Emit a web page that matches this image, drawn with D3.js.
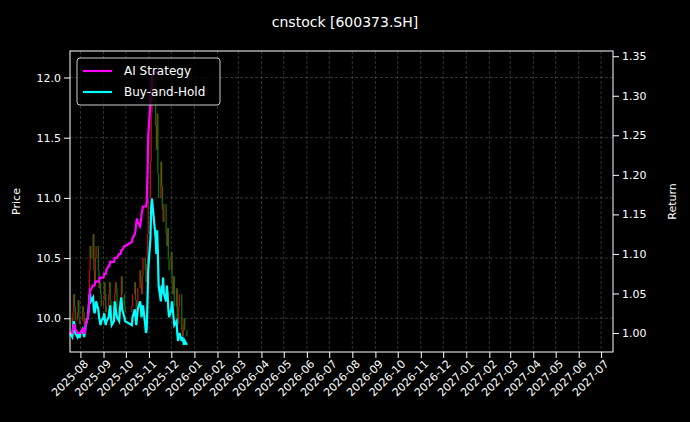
<!DOCTYPE html>
<html><head><meta charset="utf-8">
<script src="https://cdn.jsdelivr.net/npm/d3@7"></script>
<style>
body{margin:0;background:#000;}
text{font-family:"DejaVu Sans",sans-serif;fill:#fff;}
</style></head><body>
<div id="chart"></div>
<script>
// closing prices per trading day, 2025-07-18 .. 2025-12-22
var closes = [
 10.0,9.95,10.05,10.2,10.1,9.98,10.05,10.15,10.0,9.95,
 9.98,10.1,10.05,9.95,9.98,10.0,10.05,10.2,10.4,10.6,10.5,10.7,10.4,10.3,10.5,10.6,10.4,10.25,10.3,10.2,10.1,
 10.15,10.3,10.2,10.05,10.1,10.2,10.3,10.15,10.05,10.0,10.1,10.2,10.3,10.25,10.1,10.0,10.05,10.15,10.35,10.2,10.1,10.05,
 10.1,10.2,10.3,10.15,10.05,10.1,10.25,10.4,10.3,10.2,10.35,10.5,10.4,10.3,10.45,10.7,11.0,
 11.3,11.7,11.95,11.8,12.0,11.6,11.4,11.7,11.2,11.0,11.3,11.1,10.9,10.8,10.95,10.7,10.6,10.75,10.5,10.4,
 10.55,10.3,10.2,10.35,10.1,10.25,10.0,9.95,10.1,10.2,9.9,9.85,9.95,10.0,9.9,9.85
];
var buyHold = [
 1.00,0.995,1.005,1.015,1.01,1.0,0.995,1.0,0.995,0.995,
 1.0,1.005,1.0,0.995,1.0,1.01,1.02,1.03,1.045,1.05,1.04,1.045,1.03,1.025,1.03,1.04,1.03,1.02,1.015,1.01,1.015,
 1.02,1.025,1.015,1.01,1.015,1.02,1.03,1.035,1.02,1.01,1.015,1.04,1.035,1.025,1.02,1.015,1.03,1.04,1.045,1.03,1.02,1.015,
 1.01,1.02,1.03,1.02,1.01,1.02,1.03,1.04,1.035,1.02,1.03,1.035,1.01,1.0,1.005,1.04,1.08,
 1.12,1.16,1.17,1.16,1.15,1.12,1.1,1.13,1.1,1.06,1.04,1.06,1.05,1.07,1.05,1.04,1.06,1.05,1.03,1.02,
 1.03,1.04,1.03,1.02,1.01,1.015,1.0,0.99,0.995,1.0,0.99,0.995,0.99,0.985,0.99,0.985
];
var aiStrategy = [
 1.0,1.0,1.005,1.01,1.01,1.005,1.0,1.0,1.0,1.0,
 1.0,1.005,1.005,1.0,1.0,1.01,1.02,1.03,1.045,1.055,1.055,1.06,1.06,1.06,1.065,1.065,1.065,1.065,1.07,1.07,1.07,
 1.07,1.075,1.075,1.075,1.08,1.085,1.085,1.09,1.09,1.09,1.09,1.095,1.095,1.095,1.095,1.1,1.1,1.1,1.105,1.105,1.11,1.11,
 1.115,1.12,1.125,1.13,1.14,1.145,1.14,1.135,1.14,1.15,1.155,1.16,1.16,1.16,1.165,1.2,1.25,
 1.29,1.31,1.32,1.33,1.33,1.33,1.33,1.33,1.33,1.33
];
var priceTicks = [10.0,10.5,11.0,11.5,12.0];
var returnTicks = [1.00,1.05,1.10,1.15,1.20,1.25,1.30,1.35];

// trading days (weekdays, National Day holiday skipped)
var dates = [];
var d = new Date(2025,6,18);
while (dates.length < closes.length) {
    var wd = d.getDay();
    var hol = d.getMonth() == 9 && d.getDate() <= 8;
    if (wd != 0 && wd != 6 && !hol) dates.push(new Date(d));
    d.setDate(d.getDate()+1);
}

var margin = {top:51, right:77, bottom:70, left:70},
    W = 690, H = 422,
    width = W - margin.left - margin.right,
    height = H - margin.top - margin.bottom;

var svg = d3.select("#chart").append("svg").attr("width",W).attr("height",H)
    .style("background","#000");
var g = svg.append("g").attr("transform","translate("+margin.left+","+margin.top+")");

var x = d3.scaleTime().domain([new Date(2025,6,18), new Date(2027,6,17)]).range([0,width]);
var yP = d3.scaleLinear().domain([9.72,12.22]).range([height,0]);
var yR = d3.scaleLinear().domain([0.976,1.3566]).range([height,0]);
var months = d3.timeMonth.range(new Date(2025,7,1), new Date(2027,6,2));

// grid
g.append("g").selectAll("line").data(months).enter().append("line")
    .attr("x1",function(m){return x(m);}).attr("x2",function(m){return x(m);})
    .attr("y1",0).attr("y2",height)
    .attr("stroke","#555").attr("stroke-width",0.6).attr("stroke-dasharray","3,2");
g.append("g").selectAll("line").data(priceTicks).enter().append("line")
    .attr("x1",0).attr("x2",width)
    .attr("y1",function(v){return yP(v);}).attr("y2",function(v){return yP(v);})
    .attr("stroke","#555").attr("stroke-width",0.6).attr("stroke-dasharray","3,2");

// candles (open = previous close)
g.append("g").selectAll("line").data(closes).enter().append("line")
    .attr("x1",function(c,i){return x(dates[i]);}).attr("x2",function(c,i){return x(dates[i]);})
    .attr("y1",function(c,i){return yP(i ? closes[i-1] : c);})
    .attr("y2",function(c){return yP(c);})
    .attr("stroke",function(c,i){return (i && c < closes[i-1]) ? "#0a8a0a" : "#e01010";})
    .attr("stroke-width",1.3).attr("opacity",0.85);

var line = function(arr){
    return d3.line().x(function(v,i){return x(dates[i]);}).y(function(v){return yR(v);})(arr);
};
g.append("path").attr("d",line(buyHold)).attr("fill","none").attr("stroke","#00ffff").attr("stroke-width",2.2);
g.append("path").attr("d",line(aiStrategy)).attr("fill","none").attr("stroke","#ff00ff").attr("stroke-width",2.2);

// axes
var xAxis = g.append("g").attr("transform","translate(0,"+height+")")
    .call(d3.axisBottom(x).tickValues(months).tickFormat(d3.timeFormat("%Y-%m")).tickSizeOuter(0));
xAxis.selectAll("text").attr("text-anchor","end").attr("dx","-0.3em").attr("dy","0.5em")
    .attr("transform","rotate(-45)");
g.append("g").call(d3.axisLeft(yP).tickValues(priceTicks).tickFormat(d3.format(".1f")).tickSizeOuter(0));
g.append("g").attr("transform","translate("+width+",0)")
    .call(d3.axisRight(yR).tickValues(returnTicks).tickFormat(d3.format(".2f")).tickSizeOuter(0));
g.selectAll(".domain").remove();
g.selectAll(".tick line").attr("stroke","#fff");
g.selectAll(".tick text").attr("fill","#fff").style("font-size","11px");
g.append("rect").attr("width",width).attr("height",height).attr("fill","none").attr("stroke","#fff").attr("stroke-width",1);

// labels
svg.append("text").attr("x",W/2).attr("y",27).attr("text-anchor","middle").style("font-size","14px").text("cnstock [600373.SH]");
svg.append("text").attr("transform","translate(20,"+(margin.top+height/2)+") rotate(-90)")
    .attr("text-anchor","middle").style("font-size","11px").text("Price");
svg.append("text").attr("transform","translate(676,"+(margin.top+height/2)+") rotate(-90)")
    .attr("text-anchor","middle").style("font-size","11px").text("Return");

// legend
var lg = g.append("g").attr("transform","translate(7,7)");
lg.append("rect").attr("width",143).attr("height",47).attr("rx",3)
    .attr("fill","#000").attr("fill-opacity",0.8).attr("stroke","#ccc");
[["AI Strategy","#ff00ff"],["Buy-and-Hold","#00ffff"]].forEach(function(e,i){
    lg.append("line").attr("x1",6).attr("x2",35).attr("y1",13+i*21).attr("y2",13+i*21)
        .attr("stroke",e[1]).attr("stroke-width",2.2);
    lg.append("text").attr("x",47).attr("y",17+i*21).style("font-size","12px").text(e[0]);
});
</script></body></html>
